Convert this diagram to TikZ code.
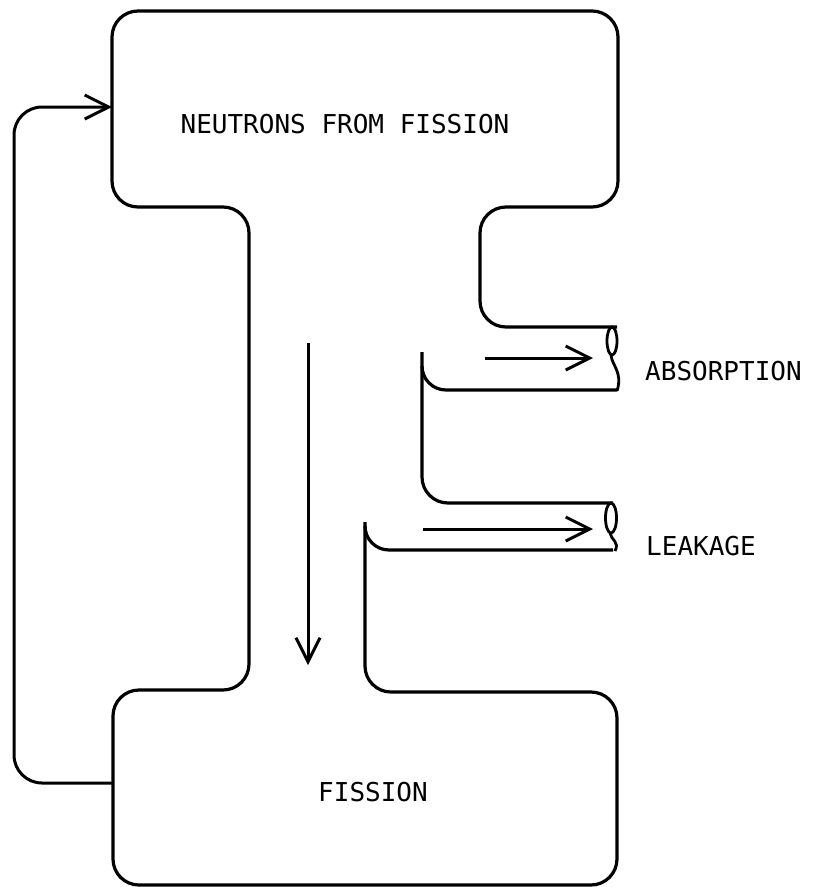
\documentclass[tikz,border=0pt]{standalone}
\usepackage{fontspec}
\newfontfamily\typewriter{DejaVu Sans Mono}
\usetikzlibrary{arrows.meta}

\tikzset{
  wall/.style={line width=3.2pt, rounded corners=26pt},
  pipecut/.style={line width=2.8pt},
  flow/.style={line width=3pt, -{Straight Barb[length=24pt,width=24pt]}},
  lbl/.style={font=\typewriter\fontsize{26}{26}\selectfont, inner sep=0pt},
}

\begin{document}
\begin{tikzpicture}[x=1pt,y=-1pt]
  \useasboundingbox (0,0) rectangle (813,887);

  % outline of the core
  \draw[wall] (617,327) -- (480,327) -- (480,207) -- (618,207) -- (618,11)
    -- (112,11) -- (112,207) -- (249,207) -- (249,690) -- (113,690)
    -- (113,885) -- (617,885) -- (617,692) -- (365,692) -- (365,522);
  \draw[wall] (613,503) -- (422,503) -- (422,352);

  % lower walls of the two pipes
  \draw[wall, rounded corners=24pt] (422,366) -- (422,390) -- (617,390);
  \draw[wall, rounded corners=24pt] (365,526) -- (365,550) -- (613,550);

  % cut ends of the pipes
  \draw[pipecut] (612,341) ellipse [x radius=5, y radius=14];
  \draw[pipecut] (611,355) .. controls (612,366) and (623,372) .. (617,391);
  \draw[pipecut] (611,518) ellipse [x radius=5.5, y radius=15];
  \draw[pipecut] (610,533) .. controls (611,540) and (620,542) .. (615,551);

  % labels
  \node[lbl] (neutrons) at (345,124) {NEUTRONS FROM FISSION};
  \node[lbl] (fission) at (373,792) {FISSION};
  \node[lbl, anchor=west] (absorption) at (645,371) {ABSORPTION};
  \node[lbl, anchor=west] (leakage) at (646,546) {LEAKAGE};

  % flow arrows
  \coordinate (downtop) at (308,343);
  \coordinate (downend) at (308,665);
  \coordinate (abstail) at (485,358);
  \coordinate (abshead) at (593,358);
  \coordinate (leaktail) at (423,529);
  \coordinate (leakhead) at (593,529);
  \draw[flow] (downtop) -- (downend);
  \draw[flow] (abstail) -- (abshead);
  \draw[flow] (leaktail) -- (leakhead);

  % return loop, fission back to neutrons
  \coordinate (loopout) at (113,783);
  \coordinate (loopin) at (112,107);
  \draw[flow, rounded corners=28pt] (loopout) -- (14,783) -- (14,107) -- (loopin);
\end{tikzpicture}
\end{document}
